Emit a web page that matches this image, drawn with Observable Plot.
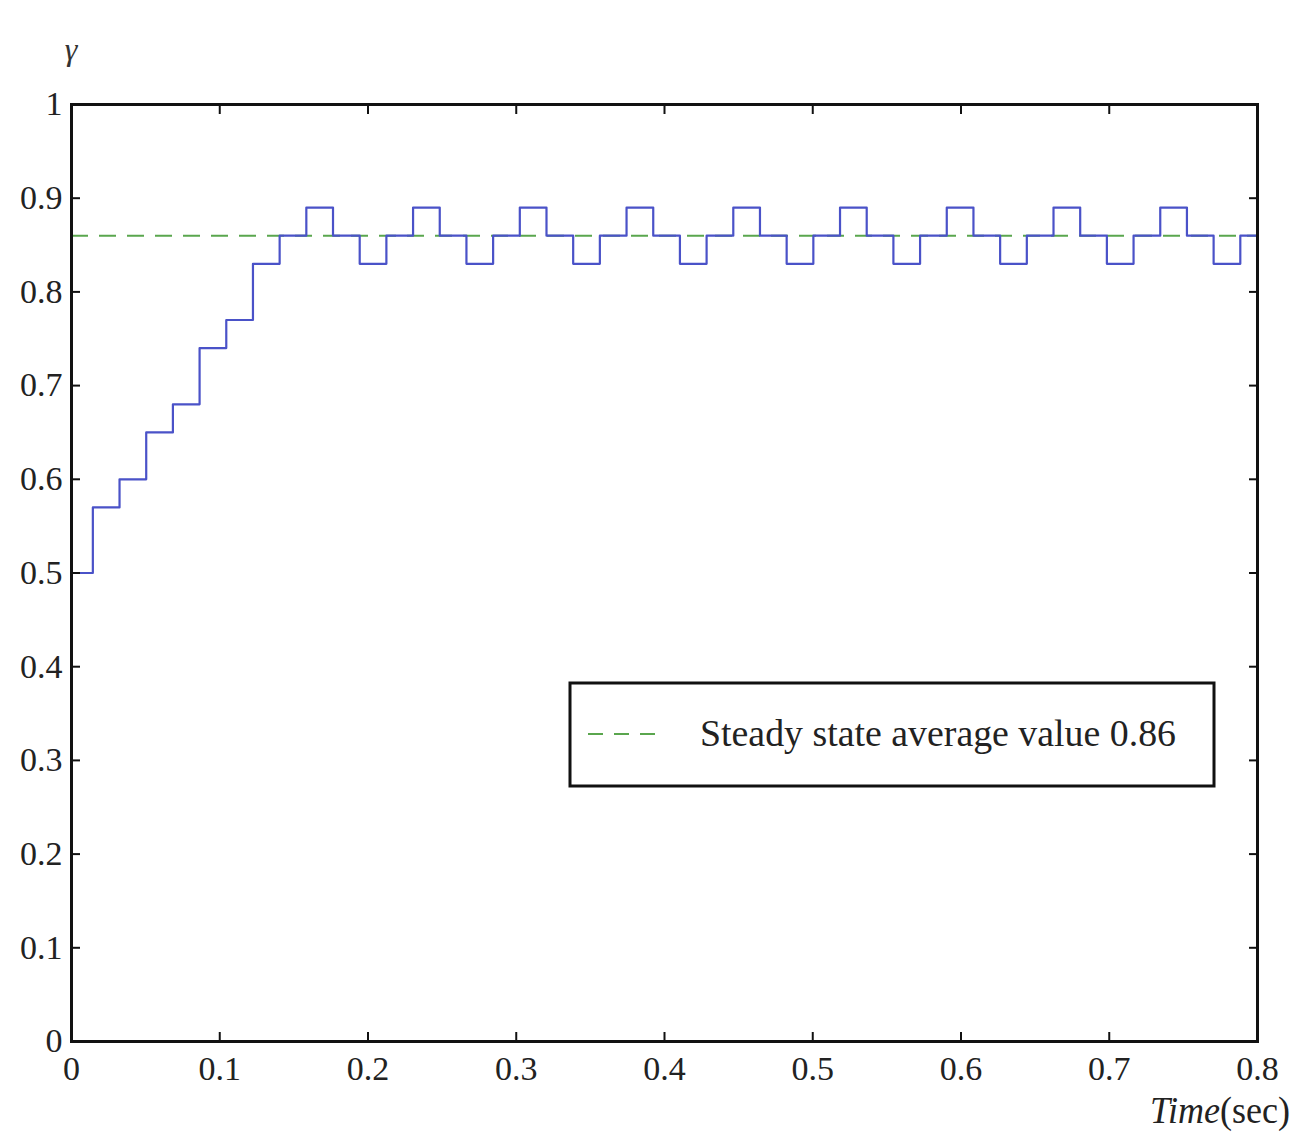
<!DOCTYPE html>
<html>
<head>
<meta charset="utf-8">
<script src="https://cdn.jsdelivr.net/npm/d3@7"></script>
<script src="https://cdn.jsdelivr.net/npm/@observablehq/plot@0.6"></script>
<style>
  html, body { margin: 0; padding: 0; background: #fff; overflow: hidden; }
  svg { display: block; overflow: hidden; }
</style>
</head>
<body>
<div id="chart"></div>
<script>
// Step-change times (s) and the value held from each time onward
const stepTimes = [
  0, 0.0144, 0.0324, 0.0504, 0.0684, 0.0864, 0.1044, 0.1224, 0.1404, 0.1584,
  0.1764, 0.1944, 0.2124, 0.2304, 0.2484, 0.2664, 0.2844, 0.3024, 0.3204, 0.3384,
  0.3564, 0.3744, 0.3924, 0.4104, 0.4284, 0.4464, 0.4644, 0.4824, 0.5004, 0.5184,
  0.5364, 0.5544, 0.5724, 0.5904, 0.6084, 0.6264, 0.6444, 0.6624, 0.6804, 0.6984,
  0.7164, 0.7344, 0.7524, 0.7704, 0.7884, 0.8
];
const gammaValues = [
  0.50, 0.57, 0.60, 0.65, 0.68, 0.74, 0.77, 0.83, 0.86, 0.89,
  0.86, 0.83, 0.86, 0.89, 0.86, 0.83, 0.86, 0.89, 0.86, 0.83,
  0.86, 0.89, 0.86, 0.83, 0.86, 0.89, 0.86, 0.83, 0.86, 0.89,
  0.86, 0.83, 0.86, 0.89, 0.86, 0.83, 0.86, 0.89, 0.86, 0.83,
  0.86, 0.89, 0.86, 0.83, 0.86, 0.86
];
const steadyValue = 0.86;
const legendLabel = "Steady state average value 0.86";

const xTicks = [0, 0.1, 0.2, 0.3, 0.4, 0.5, 0.6, 0.7, 0.8];
const xTickLabels = ["0", "0.1", "0.2", "0.3", "0.4", "0.5", "0.6", "0.7", "0.8"];
const yTicks = [0, 0.1, 0.2, 0.3, 0.4, 0.5, 0.6, 0.7, 0.8, 0.9, 1];
const yTickLabels = ["0", "0.1", "0.2", "0.3", "0.4", "0.5", "0.6", "0.7", "0.8", "0.9", "1"];

const data = stepTimes.map((t, i) => ({t, v: gammaValues[i]}));
const xLab = new Map(xTicks.map((d, i) => [d, xTickLabels[i]]));
const yLab = new Map(yTicks.map((d, i) => [d, yTickLabels[i]]));

const blue = "#4a52c8";
const green = "#5aa64e";
const serif = "'Liberation Serif', 'Times New Roman', serif";

const chart = Plot.plot({
  width: 1293,
  height: 1136,
  marginLeft: 71,
  marginRight: 36,
  marginTop: 104,
  marginBottom: 95,
  x: {domain: [0, 0.8], label: null},
  y: {domain: [0, 1], label: null},
  style: {fontFamily: serif, fontSize: "34px", color: "#222", background: "#fff"},
  marks: [
    Plot.ruleY([steadyValue], {stroke: green, strokeWidth: 2, strokeDasharray: "17,11"}),
    Plot.line(data, {x: "t", y: "v", curve: "step-after", stroke: blue, strokeWidth: 2.2}),
    Plot.axisX(xTicks, {anchor: "bottom", tickSize: 0, tickPadding: 14, tickFormat: d => xLab.get(d), fontSize: 34}),
    Plot.axisY(yTicks, {anchor: "left", tickSize: 0, tickPadding: 9, tickFormat: d => yLab.get(d), fontSize: 34}),
    Plot.axisX(xTicks, {anchor: "bottom", tickSize: -9, tickFormat: () => "", strokeWidth: 2, stroke: "#111"}),
    Plot.axisX(xTicks, {anchor: "top", tickSize: -9, tickFormat: () => "", strokeWidth: 2, stroke: "#111"}),
    Plot.axisY(yTicks, {anchor: "left", tickSize: -9, tickFormat: () => "", strokeWidth: 2, stroke: "#111"}),
    Plot.axisY(yTicks, {anchor: "right", tickSize: -9, tickFormat: () => "", strokeWidth: 2, stroke: "#111"}),
    Plot.frame({stroke: "#111", strokeWidth: 3})
  ]
});

document.getElementById("chart").appendChild(chart);

// Axis titles and legend (layout only)
const svg = d3.select(chart);
svg.append("text")
  .attr("x", 71).attr("y", 60)
  .attr("text-anchor", "middle")
  .attr("font-family", serif).attr("font-style", "italic").attr("font-size", 32)
  .attr("fill", "#333")
  .text("γ");

const xt = svg.append("text")
  .attr("x", 1150).attr("y", 1123)
  .attr("text-anchor", "start")
  .attr("font-family", serif).attr("font-size", 37).attr("fill", "#222")
  .attr("textLength", 140).attr("lengthAdjust", "spacingAndGlyphs");
xt.append("tspan").attr("font-style", "italic").text("Time");
xt.append("tspan").text("(sec)");

const lg = svg.append("g");
lg.append("rect")
  .attr("x", 570).attr("y", 683).attr("width", 644).attr("height", 103)
  .attr("fill", "#fff").attr("stroke", "#111").attr("stroke-width", 3);
lg.append("line")
  .attr("x1", 588).attr("x2", 660).attr("y1", 734).attr("y2", 734)
  .attr("stroke", green).attr("stroke-width", 2).attr("stroke-dasharray", "15,11");
lg.append("text")
  .attr("x", 700).attr("y", 746)
  .attr("text-anchor", "start")
  .attr("font-family", serif).attr("font-size", 37).attr("fill", "#222")
  .attr("textLength", 476).attr("lengthAdjust", "spacingAndGlyphs")
  .text(legendLabel);
</script>
</body>
</html>
